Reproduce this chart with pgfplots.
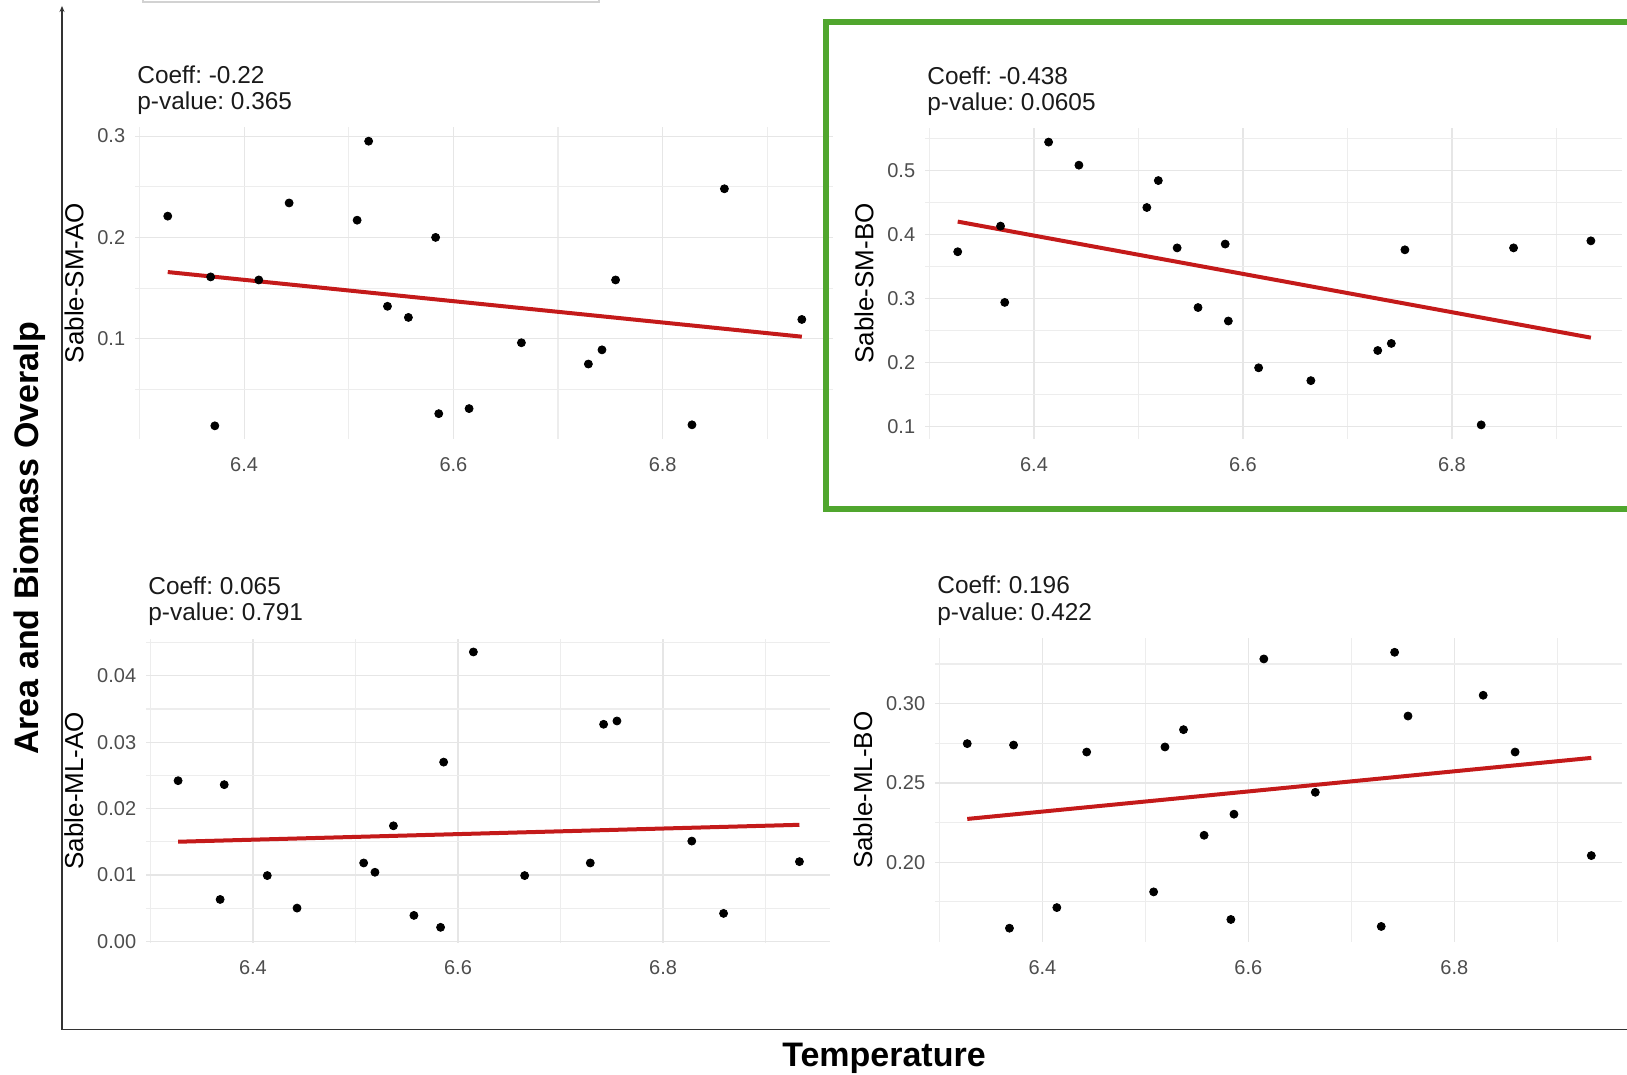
\documentclass[border=0pt]{standalone}
\usepackage{fontspec}
\setmainfont{Liberation Sans}
\usepackage{pgfplots}
\usepackage{pgfplotstable}
\pgfplotsset{compat=1.18}
\usetikzlibrary{arrows.meta}
\definecolor{gridmaj}{HTML}{E6E6E6}
\definecolor{gridmin}{HTML}{EDEDED}
\definecolor{tickgray}{HTML}{4D4D4D}
\definecolor{fitred}{HTML}{C41A1A}
\definecolor{boxgreen}{RGB}{80,166,46}
\definecolor{axisgray}{HTML}{333333}
\definecolor{annot}{HTML}{1A1A1A}

\pgfplotstableread{
x     y1    y2    y3     y4
6.327 0.221 0.373 0.0242 0.2748
6.368 0.161 0.413 0.0063 0.1584
6.372 0.014 0.294 0.0236 0.2739
6.414 0.158 0.544 0.0099 0.1714
6.443 0.234 0.508 0.0050 0.2695
6.508 0.217 0.442 0.0118 0.1813
6.519 0.295 0.484 0.0104 0.2727
6.537 0.132 0.379 0.0174 0.2836
6.557 0.121 0.286 0.0039 0.2170
6.583 0.200 0.385 0.0021 0.1639
6.586 0.026 0.265 0.0270 0.2303
6.615 0.031 0.192 0.0436 0.3282
6.665 0.096 0.172 0.0099 0.2441
6.729 0.075 0.219 0.0118 0.1595
6.742 0.089 0.230 0.0327 0.3324
6.755 0.158 0.376 0.0332 0.2922
6.828 0.015 0.103 0.0151 0.3053
6.859 0.248 0.379 0.0042 0.2695
6.933 0.119 0.390 0.0120 0.2042
}\data

\pgfplotsset{panel/.style={
  scale only axis, anchor=south west, clip=false,
  axis line style={draw=none},
  major tick length=0pt, minor tick length=0pt,
  scaled y ticks=false, scaled x ticks=false,
  xmin=6.2957, xmax=6.9628,
  xtick={6.4,6.6,6.8}, xticklabels={6.4,6.6,6.8},
  minor xtick={6.3,6.5,6.7,6.9},
  xmajorgrids, ymajorgrids, xminorgrids, yminorgrids,
  major grid style={draw=gridmaj, line width=0.6pt},
  minor grid style={draw=gridmin, line width=0.55pt},
  /pgf/number format/assume math mode=true,
  tick label style={font=\fontsize{10}{12}\selectfont, text=tickgray},
  xticklabel style={yshift=-5.5pt},
  yticklabel style={xshift=-1.4pt},
  ylabel style={font=\fontsize{13}{15}\selectfont},
}}
\tikzset{
  ann/.style={anchor=base west, inner sep=0pt, font=\fontsize{12.2}{15}\selectfont\frenchspacing, text=annot, xshift=1pt},
  pts/.style={only marks, mark=*, mark size=2pt, black},
  fit/.style={fitred, line width=2pt},
}

\begin{document}
\frenchspacing
\begin{tikzpicture}
\path[use as bounding box] (0pt,0pt) rectangle (813.5pt,537.5pt);

% Panel 1: Sable-SM-AO
\begin{axis}[panel, at={(67.5pt,318pt)}, width=349pt, height=156pt,
  ymin=0.001, ymax=0.309, ytick={0.1,0.2,0.3}, yticklabels={0.1,0.2,0.3},
  minor ytick={0.05,0.15,0.25}, ylabel={Sable-SM-AO}]
\addplot[pts] table[x=x,y=y1]{\data};
\addplot[fit] coordinates {(6.327,0.1658) (6.933,0.102)};
\node[ann, yshift=21.9pt] at (rel axis cs:0,1) {Coeff: -0.22};
\node[ann, yshift=8.5pt] at (rel axis cs:0,1) {p-value: 0.365};
\end{axis}

% Panel 2: Sable-SM-BO
\begin{axis}[panel, at={(462.5pt,318pt)}, width=348.5pt, height=155.5pt,
  ymin=0.081, ymax=0.566, ytick={0.1,0.2,0.3,0.4,0.5}, yticklabels={0.1,0.2,0.3,0.4,0.5},
  minor ytick={0.15,0.25,0.35,0.45,0.55}, ylabel={Sable-SM-BO}]
\addplot[pts] table[x=x,y=y2]{\data};
\addplot[fit] coordinates {(6.327,0.420) (6.933,0.239)};
\node[ann, yshift=21.9pt] at (rel axis cs:0,1) {Coeff: -0.438};
\node[ann, yshift=8.5pt] at (rel axis cs:0,1) {p-value: 0.0605};
\end{axis}

% Panel 3: Sable-ML-AO
\begin{axis}[panel, at={(73pt,66.2pt)}, width=342pt, height=151.95pt,
  ymin=-0.0002, ymax=0.0456, ytick={0,0.01,0.02,0.03,0.04}, yticklabels={0.00,0.01,0.02,0.03,0.04},
  minor ytick={0.005,0.015,0.025,0.035,0.045}, ylabel={Sable-ML-AO}]
\addplot[pts] table[x=x,y=y3]{\data};
\addplot[fit] coordinates {(6.327,0.0150) (6.933,0.01755)};
\node[ann, yshift=22.3pt] at (rel axis cs:0,1) {Coeff: 0.065};
\node[ann, yshift=9pt] at (rel axis cs:0,1) {p-value: 0.791};
\end{axis}

% Panel 4: Sable-ML-BO
\begin{axis}[panel, at={(467.5pt,66.5pt)}, width=343.5pt, height=151.75pt,
  ymin=0.1497, ymax=0.3411, ytick={0.2,0.25,0.3}, yticklabels={0.20,0.25,0.30},
  minor ytick={0.175,0.225,0.275,0.325}, ylabel={Sable-ML-BO}]
\addplot[pts] table[x=x,y=y4]{\data};
\addplot[fit] coordinates {(6.327,0.2273) (6.933,0.2658)};
\node[ann, yshift=22.3pt] at (rel axis cs:0,1) {Coeff: 0.196};
\node[ann, yshift=9pt] at (rel axis cs:0,1) {p-value: 0.422};
\end{axis}

% outer frame
\draw[axisgray, line width=0.75pt, {Stealth[length=3pt,width=2.5pt]}-] (31pt,534.5pt) -- (31pt,22.85pt) -- (820pt,22.85pt);
\draw[gray!35, line width=0.75pt] (71.5pt,541pt) -- (71.5pt,536.5pt) -- (299.5pt,536.5pt) -- (299.5pt,541pt);
\draw[boxgreen, line width=3pt] (830pt,526.35pt) -- (413.15pt,526.35pt) -- (413.15pt,283pt) -- (830pt,283pt);

\node[rotate=90, anchor=base, font=\fontsize{17}{20}\selectfont\bfseries] at (19.4pt,268.25pt) {Area and Biomass Overalp};
\node[anchor=base, font=\fontsize{17}{20}\selectfont\bfseries] at (442pt,4pt) {Temperature};
\end{tikzpicture}
\end{document}
